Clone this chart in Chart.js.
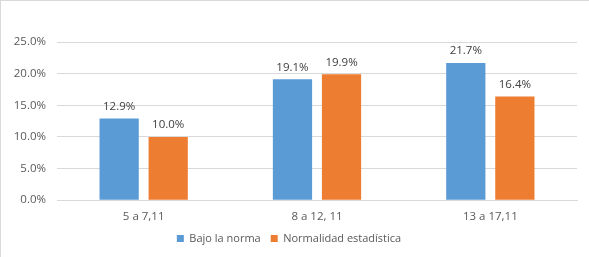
<!DOCTYPE html>
<html>
<head>
<meta charset="utf-8">
<script src="https://cdn.jsdelivr.net/npm/chart.js@4/dist/chart.umd.min.js"></script>
<style>
  html, body { margin: 0; padding: 0; background: #fff; }
  #wrap { position: relative; width: 589px; height: 257px; box-sizing: border-box;
          border-top: 1px solid #d9d9d9; border-left: 1px solid #d9d9d9; }
  canvas { display: block; }
</style>
</head>
<body>
<div id="wrap"><canvas id="c" width="588" height="256"></canvas></div>
<script>
const categories = ["5 a 7,11", "8 a 12, 11", "13 a 17,11"];
const seriesNames = ["Bajo la norma", "Normalidad estadística"];
const bajoLaNorma = [12.9, 19.1, 21.7];
const normalidad = [10.0, 19.9, 16.4];
const yTicks = [0, 5, 10, 15, 20, 25];

const FONT = '"Open Sans", "Liberation Sans", sans-serif';

const valueLabels = {
  id: 'valueLabels',
  afterDatasetsDraw(chart) {
    const ctx = chart.ctx;
    ctx.save();
    ctx.font = '11.5px ' + FONT;
    ctx.fillStyle = '#404040';
    ctx.textAlign = 'center';
    ctx.textBaseline = 'middle';
    chart.data.datasets.forEach((ds, i) => {
      chart.getDatasetMeta(i).data.forEach((bar, j) => {
        ctx.fillText(ds.data[j].toFixed(1) + '%', bar.x, bar.y - 12);
      });
    });
    ctx.restore();
  }
};

const legendHeight = {
  id: 'legendHeight',
  beforeLayout(chart) {
    const lg = chart.legend;
    if (lg && !lg._wrapped) {
      const orig = lg.fit.bind(lg);
      lg.fit = function () { orig(); this.height = 23; };
      lg._wrapped = true;
    }
  },
  afterLayout(chart) {
    const lg = chart.legend;
    if (lg) { lg.top -= 11; lg.bottom -= 11; if (lg.adjustHitBoxes) lg.adjustHitBoxes(); }
  }
};

new Chart(document.getElementById('c'), {
  type: 'bar',
  data: {
    labels: categories,
    datasets: [
      { label: seriesNames[0], data: bajoLaNorma, backgroundColor: '#5B9BD5', borderColor: '#5B9BD5', borderWidth: 0,
        categoryPercentage: 0.566, barPercentage: 0.8 },
      { label: seriesNames[1], data: normalidad, backgroundColor: '#ED7D31', borderColor: '#ED7D31', borderWidth: 0,
        categoryPercentage: 0.566, barPercentage: 0.8 }
    ]
  },
  options: {
    responsive: false,
    animation: false,
    layout: { padding: { top: 41, right: 12, left: 0, bottom: 0 } },
    plugins: {
      legend: {
        position: 'bottom',
        labels: {
          boxWidth: 7, boxHeight: 7, padding: 10,
          color: '#595959',
          font: { size: 11, family: FONT }
        }
      },
      tooltip: { enabled: false }
    },
    scales: {
      x: {
        grid: { display: false, drawTicks: false },
        border: { display: true, color: '#d9d9d9' },
        ticks: { color: '#595959', padding: 10,
          font: { size: 11.5, family: FONT } }
      },
      y: {
        min: 0, max: 25,
        afterBuildTicks: (s) => { s.ticks = yTicks.map(v => ({ value: v })); },
        afterFit: (s) => { s.width = 56; },
        grid: { color: '#d9d9d9', drawTicks: false, lineWidth: 1 },
        border: { display: false },
        ticks: { color: '#595959', padding: 11,
          font: { size: 11.5, family: FONT },
          callback: (v) => Number(v).toFixed(1) + '%' }
      }
    }
  },
  plugins: [valueLabels, legendHeight]
});
</script>
</body>
</html>
